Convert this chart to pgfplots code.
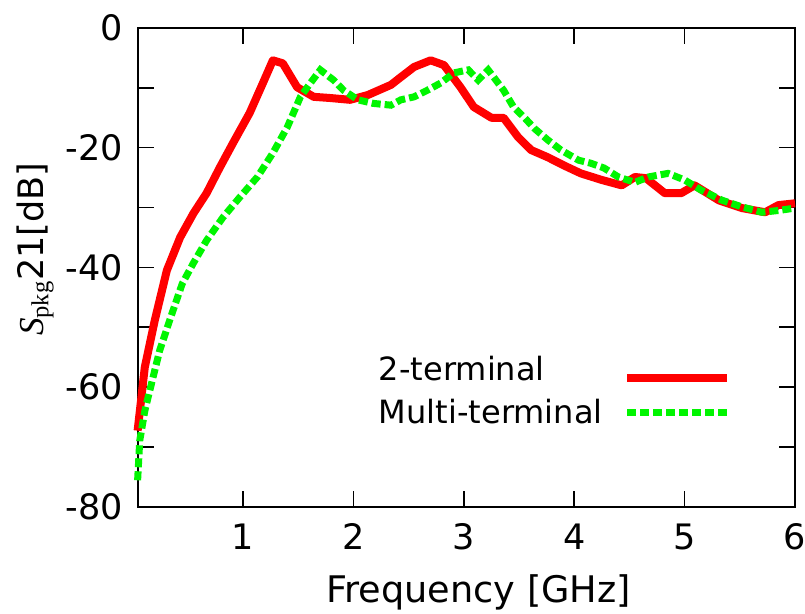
\documentclass[border=0pt]{standalone}
\usepackage{fontspec}
\setmainfont{DejaVu Sans}
\newfontfamily\serif{Liberation Serif}
\usepackage{pgfplots}
\pgfplotsset{compat=1.18}
\definecolor{gpred}{RGB}{255,0,0}
\definecolor{gpgreen}{RGB}{0,245,0}
\pgfplotsset{
  legred/.style={legend image code/.code={\draw[##1] (0pt,-3pt) -- (50pt,-3pt);}},
  leggreen/.style={legend image code/.code={\draw[##1] (0pt,1pt) -- (50pt,1pt);}},
}
\begin{document}
\begin{tikzpicture}
\begin{axis}[
  name=ax,
  scale only axis,
  width=328pt, height=239pt,
  xmin=0.05, xmax=6, ymin=-80, ymax=0,
  xtick={1,2,3,4,5,6},
  ytick={-80,-60,-40,-20,0},
  minor ytick={-70,-50,-30,-10},
  tick align=inside,
  major tick length=8pt, minor tick length=8pt,
  tick style={black, line width=0.8pt},
  axis line style={line width=1pt},
  font=\fontsize{17.5}{21}\selectfont,
  /pgf/number format/assume math mode=true,
  yticklabel style={xshift=-4pt},
  xticklabel style={anchor=base, yshift=-21.5pt},
  xlabel={Frequency [GHz]},
  xlabel style={at={(axis description cs:0.518,0)}, anchor=base, yshift=-48pt,
    font=\fontsize{18.3}{22}\selectfont},
  ylabel={{\serif\itshape S}\textsubscript{\serif pkg}21[dB]},
  ylabel style={at={(axis description cs:-0.157,0.538)}, anchor=center},
  clip=false,
  legend style={at={(axis description cs:0.366,0.328)}, anchor=north west,
    draw=none, fill=none, inner sep=0pt, column sep=0pt, row sep=0pt,
    font=\fontsize{16}{19}\selectfont,
    nodes={inner sep=0pt, text height=15pt, text depth=6.5pt}},
  legend cell align=left,
  legend plot pos=right,
]
\addplot[gpred, line width=4pt, line join=round, legred] coordinates {
  (0.045,-67.3)(0.11,-56.7)(0.2,-48.9)(0.31,-40.5)(0.43,-35)(0.55,-31)
  (0.67,-27.6)(0.79,-23.3)(0.91,-19.2)(1.06,-14.2)(1.18,-9.2)(1.27,-5.4)
  (1.36,-5.9)(1.49,-9.9)(1.64,-11.5)(1.79,-11.7)(1.97,-12)(2.13,-11.2)
  (2.34,-9.5)(2.43,-8.2)(2.55,-6.5)(2.7,-5.4)(2.82,-6.2)(2.97,-9.9)
  (3.09,-13.2)(3.25,-15)(3.36,-15)(3.49,-18.2)(3.61,-20.4)(3.76,-21.6)
  (3.91,-23)(4.06,-24.3)(4.25,-25.4)(4.43,-26.3)(4.55,-24.9)(4.65,-25.1)
  (4.82,-27.6)(4.97,-27.6)(5.09,-26.3)(5.31,-28.8)(5.52,-30.1)(5.73,-30.8)
  (5.85,-29.6)(6.0,-29.3)};
\addplot[gpgreen, line width=3.5pt, dash pattern=on 4.5pt off 2pt, leggreen] coordinates {
  (0.045,-75.6)(0.064,-69)(0.11,-64)(0.155,-60.6)(0.245,-53.9)(0.34,-48.6)
  (0.45,-42.7)(0.55,-39.3)(0.67,-35.5)(0.82,-31.6)(0.97,-28.3)(1.13,-24.9)
  (1.27,-20.9)(1.4,-16.6)(1.52,-11.5)(1.61,-9.2)(1.7,-7)(1.82,-8.7)
  (1.91,-10.4)(2.04,-12)(2.18,-12.6)(2.34,-12.9)(2.43,-12)(2.55,-11.5)
  (2.67,-10.4)(2.79,-9.2)(2.91,-7.5)(3.04,-7)(3.13,-8.7)(3.22,-7)
  (3.27,-8.2)(3.36,-10.4)(3.45,-13.2)(3.55,-15)(3.64,-16.8)(3.76,-18.7)
  (3.88,-20.4)(4.04,-22.1)(4.15,-22.6)(4.27,-23.4)(4.4,-24.9)(4.55,-25.8)
  (4.67,-24.9)(4.85,-24.3)(5.0,-25.4)(5.15,-27.1)(5.34,-28.8)(5.52,-29.9)
  (5.7,-30.8)(5.85,-30.5)(6.0,-30.1)};
\legend{\makebox[122pt][l]{2-terminal},\makebox[122pt][l]{Multi-terminal}}
\end{axis}
\pgfresetboundingbox
\path[use as bounding box] ([xshift=-69pt,yshift=-53.5pt]ax.south west)
  rectangle ([xshift=5pt,yshift=14pt]ax.north east);
\end{tikzpicture}
\end{document}
